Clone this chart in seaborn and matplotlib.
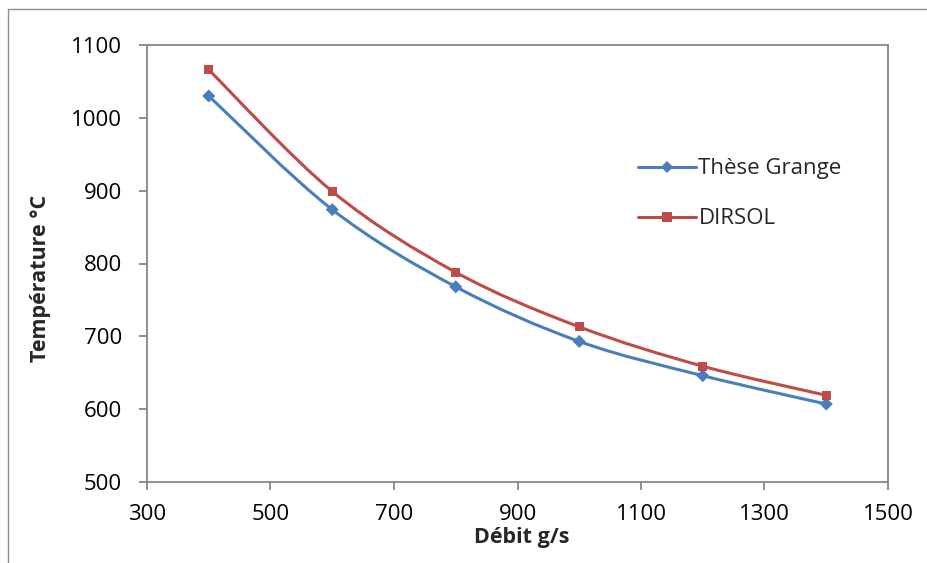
import matplotlib
matplotlib.use("Agg")
import matplotlib.pyplot as plt
from matplotlib.path import Path
from matplotlib.patches import PathPatch
from matplotlib.lines import Line2D
import numpy as np
import pandas as pd
import seaborn as sns

# valeurs
debit = [400, 600, 800, 1000, 1200, 1400]
temp_grange = [1030, 874, 768, 693, 646, 607]
temp_dirsol = [1066, 899, 788, 713, 659, 619]
series = ["Thèse Grange", "DIRSOL"]
colors = {"Thèse Grange": "#4A7EBB", "DIRSOL": "#BE4B48"}
markers = {"Thèse Grange": "D", "DIRSOL": "s"}

df = pd.DataFrame({
    "debit": debit * 2,
    "temp": temp_grange + temp_dirsol,
    "serie": [series[0]] * len(debit) + [series[1]] * len(debit),
})

sns.set_theme(style="white")
plt.rcParams["font.family"] = ["Open Sans", "DejaVu Sans"]


# courbe lissée façon Excel (Bezier type Catmull-Rom)
def smooth_path(xs, ys):
    pts = np.column_stack([xs, ys]).astype(float)
    ext = np.vstack([pts[0], pts, pts[-1]])
    verts = [pts[0]]
    codes = [Path.MOVETO]
    for i in range(len(pts) - 1):
        p0, p1, p2, p3 = ext[i], ext[i + 1], ext[i + 2], ext[i + 3]
        verts += [p1 + (p2 - p0) / 6, p2 - (p3 - p1) / 6, p2]
        codes += [Path.CURVE4] * 3
    return Path(verts, codes)


fig = plt.figure(figsize=(9.28, 5.63), dpi=100)
ax = fig.add_axes([147 / 928, 1 - 482 / 563, 741 / 928, 437 / 563])

for name, ys in zip(series, [temp_grange, temp_dirsol]):
    ax.add_patch(PathPatch(smooth_path(debit, ys), fill=False,
                           edgecolor=colors[name], linewidth=2.2, zorder=2,
                           capstyle="round", joinstyle="round"))

sns.scatterplot(data=df, x="debit", y="temp", hue="serie", style="serie",
                palette=colors, markers=markers, s=44, linewidth=0,
                legend=False, zorder=3, ax=ax)

ax.set_xlim(300, 1500)
ax.set_ylim(500, 1100)
ax.set_xticks(np.arange(300, 1501, 200))
ax.set_yticks(np.arange(500, 1101, 100))
ax.set_xlabel("")
ax.set_ylabel("")
ax.grid(False)

for sp in ax.spines.values():
    sp.set_color("#868686")
    sp.set_linewidth(1.3)
ax.tick_params(axis="both", direction="out", length=6, width=1.3,
               color="#868686", labelsize=16, labelcolor="black")
ax.tick_params(axis="y", pad=12, left=True)
ax.tick_params(axis="x", pad=10, bottom=True)

fig.text(41 / 928, 1 - 278 / 563, "Température °C", rotation=90,
         ha="center", va="center", fontsize=15.5, fontweight="bold")
fig.text(522 / 928, 1 - 538 / 563, "Débit g/s",
         ha="center", va="center", fontsize=15.5, fontweight="bold")

handles = [Line2D([], [], color=colors[n], linewidth=2.2, marker=markers[n],
                  markersize=6.6, markeredgewidth=0) for n in series]
ax.legend(handles, series, loc="upper left", frameon=False, fontsize=16,
          bbox_to_anchor=(638 / 928, 1 - 158.5 / 563),
          bbox_transform=fig.transFigure, borderpad=0, borderaxespad=0,
          handlelength=2.6, handletextpad=0.12, labelspacing=1.3)

# cadre du graphique
fig.add_artist(Line2D([8 / 928, 8 / 928], [0, 1 - 9 / 563],
                      transform=fig.transFigure, color="#8c8c8c", linewidth=1))
fig.add_artist(Line2D([8 / 928, 1], [1 - 9 / 563, 1 - 9 / 563],
                      transform=fig.transFigure, color="#8c8c8c", linewidth=1))

plt.savefig("out.png", dpi=100)
plt.close()
